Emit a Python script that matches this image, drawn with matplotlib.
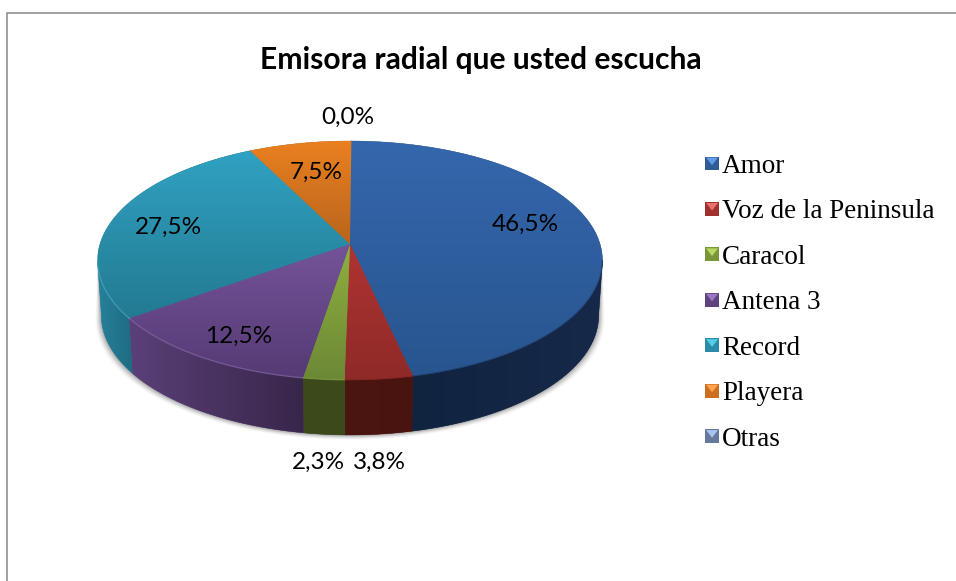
import numpy as np
import matplotlib
matplotlib.use("Agg")
import matplotlib.pyplot as plt
from matplotlib.colors import LinearSegmentedColormap
from matplotlib.legend_handler import HandlerBase
from matplotlib.patches import Patch, Polygon

# ---- data ----
title = "Emisora radial que usted escucha"
categories = ["Amor", "Voz de la Peninsula", "Caracol", "Antena 3", "Record", "Playera", "Otras"]
values = [46.5, 3.8, 2.3, 12.5, 27.5, 7.5, 0.0]

# ---- styles ----
top_light = ["#3567ad", "#b03432", "#8fb040", "#755399", "#30a2c2", "#ea8020", "#7d96c4"]
top_dark = ["#28558f", "#8e2a28", "#6c8835", "#553a74", "#237a92", "#b8651c", "#5e7394"]
side_left = ["#10233f", "#4b1410", "#3d4a1a", "#5a4078", "#27819a", "#9a5515", "#506080"]
side_right = ["#16294a", "#491511", "#3b4a1b", "#38264a", "#1e6b80", "#9a5515", "#506080"]
rim_color = ["#10233f", "#6b1e1c", "#8aa84a", "#8f74b4", "#4fb4d0", "#ea8020", "#7d96c4"]
rim_alpha = [0.4, 0.3, 0.4, 0.5, 0.55, 0.5, 0.5]
legend_base = ["#2f5b97", "#a0302e", "#7b963a", "#5e437f", "#2a8ba6", "#cc6f20", "#66799c"]
legend_tip = ["#5f9be6", "#e8706c", "#b8d860", "#9a78c4", "#55cde8", "#ffa550", "#a8c4ee"]
label_pos = [(525, 224), (379, 462), (318, 462), (239, 336), (168, 227), (316, 172), (348, 117)]

W, H = 956, 581
CX, CY = 350, 244
B, A, K = 250.0, 117.2, 0.138
DEPTH = 55
NARROW = 0.985

fig = plt.figure(figsize=(W / 100, H / 100), dpi=100)
ax = fig.add_axes([0, 0, 1, 1])
ax.set_xlim(0, W)
ax.set_ylim(H, 0)
ax.axis("off")


def project(t):
    """Angle (clockwise from 12 o'clock) to picture coordinates, in perspective."""
    u, v = np.sin(t), np.cos(t)
    d = 1 + K * v
    return CX + B * u / d, CY - A * v / d


def floor(x, y):
    """The matching point on the underside of the disc."""
    return CX + (x - CX) * NARROW, y + DEPTH


def gradient(colors, horizontal, extent, clip, zorder):
    cmap = LinearSegmentedColormap.from_list("g", colors)
    g = np.linspace(0, 1, 256)
    g = g.reshape(1, -1) if horizontal else g.reshape(-1, 1)
    im = ax.imshow(g, cmap=cmap, extent=extent, aspect="auto", origin="upper",
                   zorder=zorder, interpolation="bilinear")
    im.set_clip_path(clip)
    return im


# frame
ax.plot([7.5, 7.5, W + 5], [H + 5, 12.5, 12.5], color="#868686", lw=1.1, solid_joinstyle="miter")

edges = np.concatenate([[0], np.cumsum(values)]) / 100 * 2 * np.pi
vis_a = np.arccos(-K)
vis_b = 2 * np.pi - vis_a

# soft shadow
ts = np.linspace(vis_a, vis_b, 240)
sx, sy = project(ts)
fx, fy = floor(sx, sy)
for off, al in [(6, 0.03), (5, 0.05), (4, 0.07), (3, 0.09), (2, 0.12), (1, 0.15)]:
    outer = np.c_[CX + (fx - CX) * (1 + off / 250), fy + off * 0.8]
    ax.add_patch(Polygon(np.r_[np.c_[sx, sy], outer[::-1]], closed=True,
                         fc="#444444", ec="none", alpha=al, zorder=1))

# side faces: horizontal gradient clipped to the visible part of each slice
for i in range(len(values)):
    a, b = max(edges[i], vis_a), min(edges[i + 1], vis_b)
    if b <= a:
        continue
    tt = np.linspace(a, b, 80)
    x, y = project(tt)
    bx, by = floor(x, y)
    pts = np.r_[np.c_[x, y], np.c_[bx, by][::-1]]
    poly = Polygon(pts, closed=True, fc=side_left[i], ec=side_left[i], lw=0.3, zorder=2)
    ax.add_patch(poly)
    x0, x1 = pts[:, 0].min(), pts[:, 0].max()
    gradient([side_left[i], side_right[i]], True, (x0, x1, pts[:, 1].max(), pts[:, 1].min()),
             poly, 2.1)

# top faces: vertical gradient per slice, clipped to it
for i in range(len(values)):
    if values[i] <= 0:
        continue
    tt = np.linspace(edges[i], edges[i + 1], max(int((edges[i + 1] - edges[i]) * 60), 3))
    x, y = project(tt)
    pts = np.r_[[[CX, CY]], np.c_[x, y]]
    poly = Polygon(pts, closed=True, fc=top_dark[i], ec=top_dark[i], lw=0.3, zorder=3)
    ax.add_patch(poly)
    gradient([top_light[i], top_dark[i]], False,
             (pts[:, 0].min(), pts[:, 0].max(), pts[:, 1].max(), pts[:, 1].min()), poly, 3.1)
    # rim between the top and the side
    a, b = max(edges[i], vis_a), min(edges[i + 1], vis_b)
    if b > a:
        rx, ry = project(np.linspace(a, b, 80))
        ax.plot(rx, ry, color=rim_color[i], lw=1.0, alpha=rim_alpha[i], zorder=3.5)
ax.set_xlim(0, W)
ax.set_ylim(H, 0)

# data labels
for v, (px, py) in zip(values, label_pos):
    ax.text(px, py, f"{v:.1f}%".replace(".", ","), ha="center", va="center",
            family="Lato", fontsize=17.5, color="black", zorder=6)

# title
ax.text(481, 60, title, ha="center", va="center", family="Lato", weight="bold",
        fontsize=21.6, color="black")


# legend with bevelled keys
class BevelKey(HandlerBase):
    def create_artists(self, legend, orig, xd, yd, width, height, fontsize, trans):
        s = 10.0
        x0 = -xd + (width - s) / 2
        y0 = -yd + (height - s) / 2
        base = Polygon([(x0, y0), (x0 + s, y0), (x0 + s, y0 + s), (x0, y0 + s)],
                       fc=orig.get_facecolor(), ec="none", transform=trans)
        tip = Polygon([(x0 + 0.7, y0 + s - 0.7), (x0 + s - 0.7, y0 + s - 0.7), (x0 + s / 2, y0 + s * 0.38)],
                      fc=orig.get_edgecolor(), ec="none", transform=trans)
        return [base, tip]


handles = [Patch(fc=b, ec=t, label=c) for b, t, c in zip(legend_base, legend_tip, categories)]
leg = ax.legend(handles=handles, handler_map={Patch: BevelKey()}, loc="upper left",
                bbox_to_anchor=(705 / W, 1 - 154 / H), bbox_transform=fig.transFigure,
                frameon=False, prop={"family": "Liberation Serif", "size": 19.5},
                labelspacing=0.754, handlelength=0.52, handletextpad=0.1,
                borderpad=0, borderaxespad=0)
leg.set_zorder(6)

fig.savefig("out.png", dpi=100)
